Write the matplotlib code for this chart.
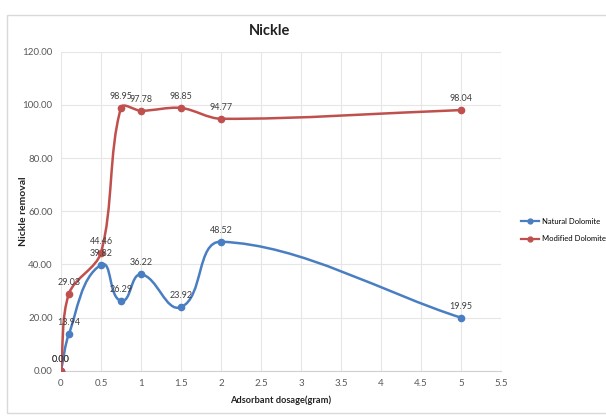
import numpy as np
import matplotlib.pyplot as plt
from matplotlib.path import Path
from matplotlib.patches import PathPatch, Rectangle
from matplotlib.lines import Line2D

dosage = [0, 0.1, 0.5, 0.75, 1, 1.5, 2, 5]
natural = [0.00, 13.94, 39.82, 26.29, 36.22, 23.92, 48.52, 19.95]
modified = [0.00, 29.03, 44.46, 98.95, 97.78, 98.85, 94.77, 98.04]
series_names = ["Natural Dolomite", "Modified Dolomite"]
colors = ["#4A7EC2", "#C0504D"]

plt.rcParams['font.family'] = ['Lato', 'DejaVu Sans']


def smooth_path(ax, xs, ys, s=0.32):
    # Excel-like smoothed line, built in screen space so the shape matches
    tr = ax.transData
    pts = tr.transform(np.column_stack([xs, ys]).astype(float))
    n = len(pts)

    def unit(v):
        L = np.hypot(*v)
        return v / L if L > 0 else v

    verts = [pts[0]]
    codes = [Path.MOVETO]
    for i in range(n - 1):
        p0 = pts[i - 1] if i > 0 else pts[i]
        p1 = pts[i]
        p2 = pts[i + 1]
        p3 = pts[i + 2] if i + 2 < n else pts[i + 1]
        d = np.hypot(*(p2 - p1))
        c1 = p1 + unit(p2 - p0) * d * s
        c2 = p2 - unit(p3 - p1) * d * s
        verts += [c1, c2, p2]
        codes += [Path.CURVE4] * 3
    verts = tr.inverted().transform(np.array(verts))
    return Path(verts, codes)


fig = plt.figure(figsize=(6.06, 4.17), dpi=100)
fig.patches.append(Rectangle((7 / 606, 4 / 417), 1.2, 0.955, transform=fig.transFigure,
                             fill=False, edgecolor="#D9D9D9", linewidth=1))
ax = fig.add_axes([61 / 606, 1 - 370.7 / 417, 440 / 606, 319 / 417])
ax.set_xlim(0, 5.5)
ax.set_ylim(0, 120)

for ys, c in zip([natural, modified], colors):
    ax.add_patch(PathPatch(smooth_path(ax, dosage, ys), facecolor="none", edgecolor=c,
                           linewidth=1.8, zorder=3))
    ax.plot(dosage, ys, linestyle="none", marker="o", markersize=4.5, color=c, zorder=4)
    for x, y in zip(dosage, ys):
        ax.annotate("%.2f" % y, (x, y), xytext=(0, 5), textcoords="offset points",
                    ha="center", va="bottom", fontsize=6.5, color="#404040", zorder=5)

ax.set_xticks(np.arange(0, 5.51, 0.5))
ax.set_xticklabels(["0", "0.5", "1", "1.5", "2", "2.5", "3", "3.5", "4", "4.5", "5", "5.5"])
ax.set_yticks(np.arange(0, 121, 20))
ax.set_yticklabels(["%.2f" % v for v in np.arange(0, 121, 20)])
ax.tick_params(labelsize=7, colors="#595959", length=0, pad=6)
ax.grid(True, color="#E6E6E6", linewidth=0.8)
ax.set_axisbelow(True)
for s in ["top", "right", "left"]:
    ax.spines[s].set_visible(False)
ax.spines["bottom"].set_color("#D0D0D0")

ax.set_title("Nickle", fontsize=10.5, fontweight="bold", color="#222222", x=0.475, pad=12)
ax.set_xlabel("Adsorbant dosage(gram)", fontsize=6.7, fontweight="bold", color="#222222",
              labelpad=5)
ax.set_ylabel("Nickle removal", fontsize=7.5, fontweight="bold", color="#222222")
ax.yaxis.set_label_coords(-0.075, 0.5)

handles = [Line2D([], [], color=c, marker="o", markersize=3.5, linewidth=1.6) for c in colors]
fig.legend(handles, series_names, loc="center left", bbox_to_anchor=(521 / 606, 1 - 230 / 417),
           frameon=False, handlelength=2.4, handletextpad=0.3, labelspacing=1.4,
           borderaxespad=0, borderpad=0, fontsize=5.5)

fig.savefig("out.png", dpi=100)
